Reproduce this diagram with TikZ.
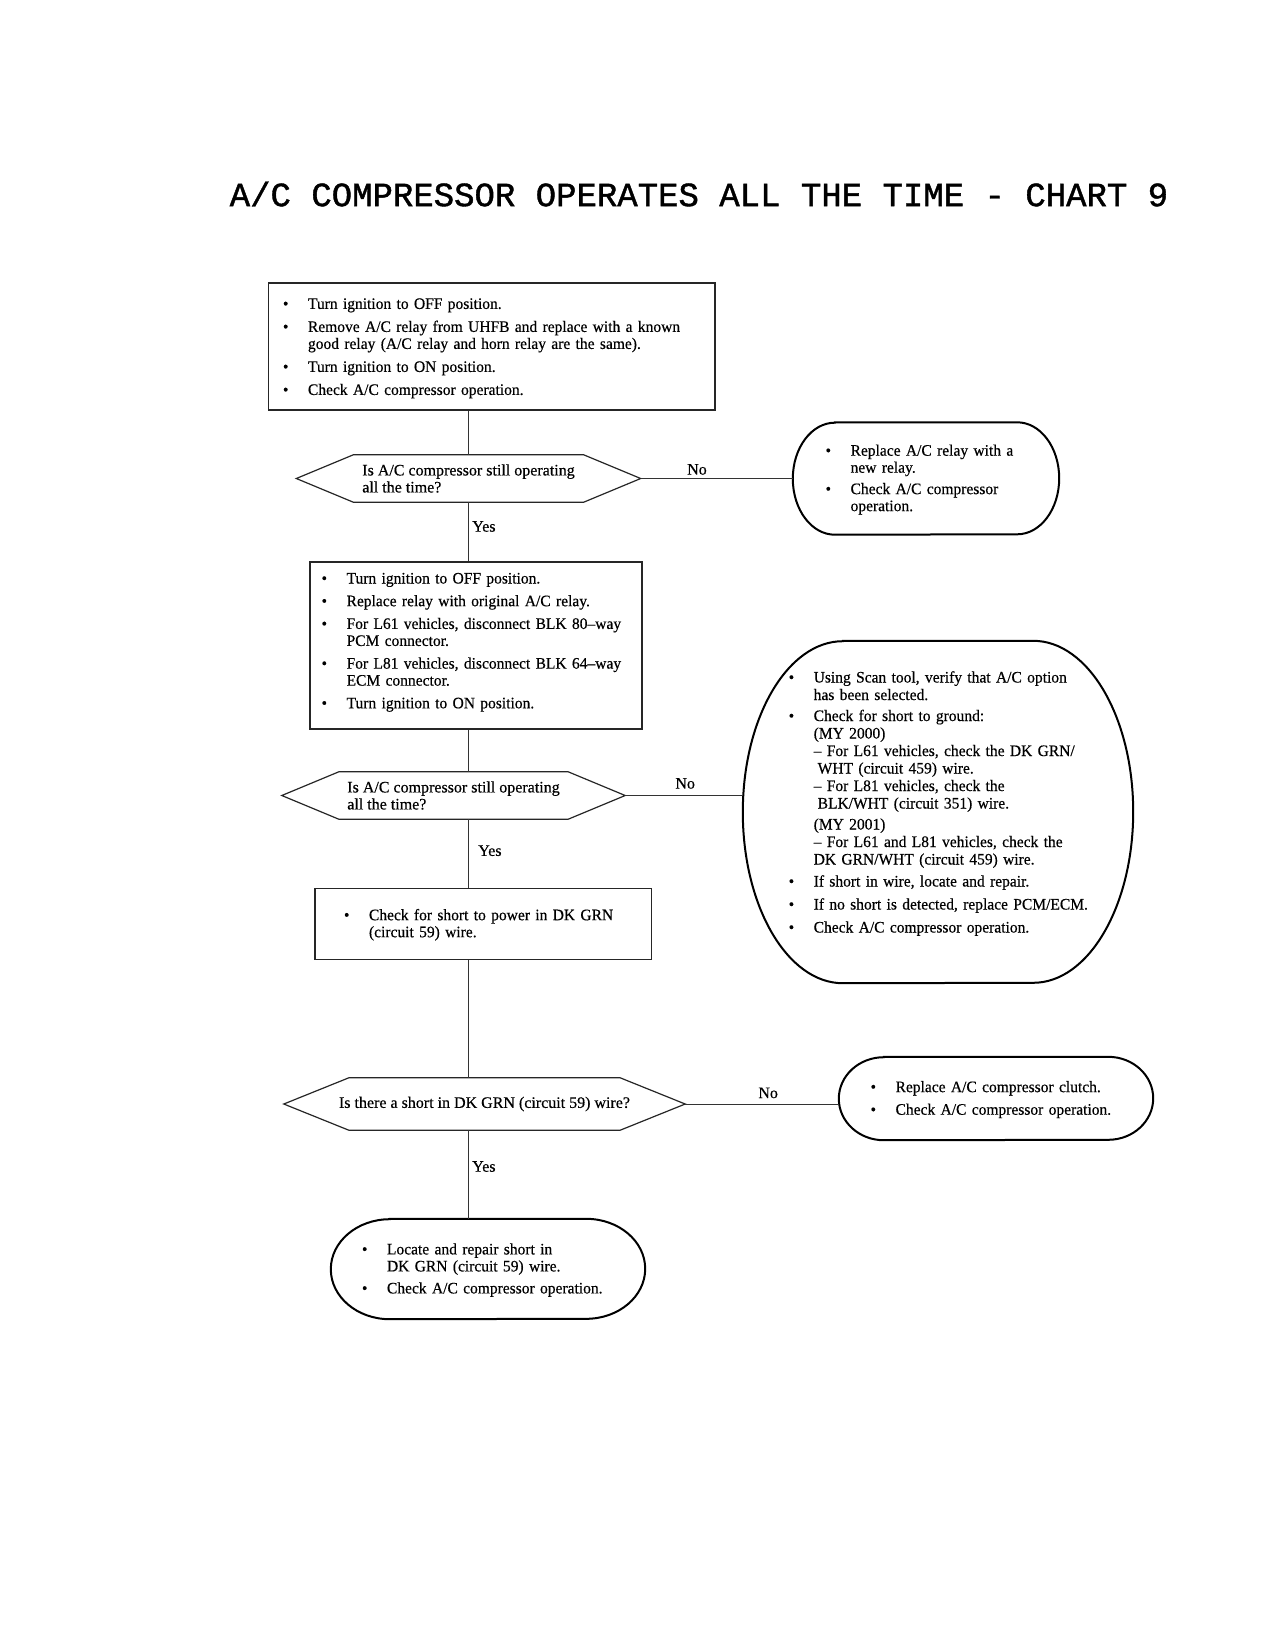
\documentclass[tikz,border=0pt]{standalone}
\usepackage{fontspec}
\setmainfont[FakeBold=0.4]{Liberation Serif}
\newfontfamily\tightfont[Ligatures=TeX,FakeStretch=0.97,FakeBold=0.4]{Liberation Serif}
\newfontfamily\titlefont[FakeBold=1.2]{Liberation Mono}
\usepackage{array}

\begin{document}
\begin{tikzpicture}[x=1pt,y=1pt]
	\tikzstyle{every node} = [font=\fontsize{16}{17}\selectfont]
	\tikzstyle{stepbox} = [rectangle,draw=black!85,line width=1.2pt,inner sep=0pt,align=left,font=\tightfont\fontsize{16}{17}\selectfont]
	\tikzstyle{link} = [draw=black!80,line width=0.9pt]
	\tikzset{query/.style={rectangle,inner sep=0pt,align=left,
		append after command={\pgfextra{\edef\bodyname{\tikzlastnode}\draw[black!85,line width=1.2pt]
			([xshift=#1]\bodyname.north west) -- ([xshift=-#1]\bodyname.north east)
			-- (\bodyname.east) -- ([xshift=-#1]\bodyname.south east)
			-- ([xshift=#1]\bodyname.south west) -- (\bodyname.west) -- cycle;}}}}
	\tikzset{endbox/.style 2 args={rectangle,inner sep=0pt,align=left,font=\tightfont\fontsize{16}{17}\selectfont,
		append after command={\pgfextra{\edef\bodyname{\tikzlastnode}\draw[black,line width=2pt]
			([xshift=#1]\bodyname.north west) -- ([xshift=-#1]\bodyname.north east)
			arc[start angle=90,end angle=-90,x radius=#1,y radius=#2]
			-- ([xshift=#1]\bodyname.south west)
			arc[start angle=270,end angle=90,x radius=#1,y radius=#2] -- cycle;}}}}

	\path[fill=white] (0,0) rectangle (1275,-1650);

	\node[font=\titlefont\fontsize{34}{40}\selectfont] (title) at (699,-194) {A/C COMPRESSOR OPERATES ALL THE TIME - CHART 9};

	\node[stepbox,minimum width=446.4pt,minimum height=127pt,text width=417.6pt] (relay) at (491.8,-346.5) {\noindent
		\begin{tabular}{@{}p{25pt}@{}l@{}}
		\textbullet & Turn ignition to OFF position.\\[6pt]
		\textbullet & Remove A/C relay from UHFB and replace with a known\\
		 & good relay (A/C relay and horn relay are the same).\\[6pt]
		\textbullet & Turn ignition to ON position.\\[6pt]
		\textbullet & Check A/C compressor operation.\\[-4pt]
		\end{tabular}};
	\node[query=57pt,minimum width=344pt,minimum height=47pt] (first) at (468.5,-478.5) {Is A/C compressor still operating\\all the time?};
	\node[endbox={42pt}{56pt},minimum width=266pt,minimum height=112pt,text width=200.8pt] (newrelay) at (926,-478.5) {\noindent
		\begin{tabular}{@{}p{25pt}@{}l@{}}
		\textbullet & Replace A/C relay with a\\
		 & new relay.\\[4.4pt]
		\textbullet & Check A/C compressor\\
		 & operation.\\[-3pt]
		\end{tabular}};
	\node[stepbox,minimum width=332pt,minimum height=167pt,text width=308.8pt] (restore) at (476,-645.5) {\noindent
		\begin{tabular}{@{}p{25pt}@{}l@{}}
		\textbullet & Turn ignition to OFF position.\\[5.7pt]
		\textbullet & Replace relay with original A/C relay.\\[5.7pt]
		\textbullet & For L61 vehicles, disconnect BLK 80--way\\
		 & PCM connector.\\[5.7pt]
		\textbullet & For L81 vehicles, disconnect BLK 64--way\\
		 & ECM connector.\\[5.7pt]
		\textbullet & Turn ignition to ON position.\\[6pt]
		\end{tabular}};
	\node[query=57pt,minimum width=343pt,minimum height=47pt] (second) at (453.5,-795.5) {Is A/C compressor still operating\\all the time?};
	\node[endbox={100pt}{171pt},minimum width=390pt,minimum height=342pt,text width=298.6pt,font=\tightfont\fontsize{16}{17.5}\selectfont] (scan) at (938,-812) {\noindent
		\begin{tabular}{@{}p{25pt}@{}l@{}}
		\textbullet & Using Scan tool, verify that A/C option\\
		 & has been selected.\\[3.5pt]
		\textbullet & Check for short to ground:\\
		 & (MY 2000)\\
		 & -- For L61 vehicles, check the DK GRN/\\
		 & \hspace{4pt}WHT (circuit 459) wire.\\
		 & -- For L81 vehicles, check the\\
		 & \hspace{4pt}BLK/WHT (circuit 351) wire.\\[3.5pt]
		 & (MY 2001)\\
		 & -- For L61 and L81 vehicles, check the\\
		 & DK GRN/WHT (circuit 459) wire.\\[4.5pt]
		\textbullet & If short in wire, locate and repair.\\[5.5pt]
		\textbullet & If no short is detected, replace PCM/ECM.\\[5.5pt]
		\textbullet & Check A/C compressor operation.\\[16pt]
		\end{tabular}};
	\node[stepbox,minimum width=336.7pt,minimum height=71pt,text width=278.8pt] (power) at (483.4,-923.8) {\noindent
		\begin{tabular}{@{}p{25pt}@{}l@{}}
		\textbullet & Check for short to power in DK GRN\\
		 & (circuit 59) wire.\\[-3pt]
		\end{tabular}};
	\node[query=65pt,minimum width=401pt,minimum height=52pt] (short) at (484.5,-1104) {Is there a short in DK GRN (circuit 59) wire?};
	\node[endbox={45pt}{41.5pt},minimum width=314pt,minimum height=83pt,text width=250.8pt] (clutch) at (996,-1098.5) {\noindent
		\begin{tabular}{@{}p{25pt}@{}l@{}}
		\textbullet & Replace A/C compressor clutch.\\[5.6pt]
		\textbullet & Check A/C compressor operation.\\[-3pt]
		\end{tabular}};
	\node[endbox={59pt}{50pt},minimum width=314pt,minimum height=100pt,text width=252pt] (repair) at (488,-1269) {\noindent
		\begin{tabular}{@{}p{25pt}@{}l@{}}
		\textbullet & Locate and repair short in\\
		 & DK GRN (circuit 59) wire.\\[5pt]
		\textbullet & Check A/C compressor operation.\\[-3pt]
		\end{tabular}};

	\path (relay.south -| first.north) edge[link] (first.north);
	\path (first) edge[link] node[above,pos=0.37]{No} (newrelay);
	\path (first.south) edge[link] node[right,pos=0.41]{Yes} (restore.north -| first.south);
	\path (restore.south -| first.south) edge[link] (second.north -| first.south);
	\path (second.east) edge[link] node[above,pos=0.51,yshift=3pt]{No} (second.east -| scan.west);
	\path (second.south -| first.south) edge[link] node[right,pos=0.46,xshift=6pt]{Yes} (power.north -| first.south);
	\path (power.south -| first.south) edge[link] (short.north -| first.south);
	\path (short.east) edge[link] node[above,pos=0.54,yshift=2pt]{No} (short.east -| clutch.west);
	\path (short.south -| first.south) edge[link] node[right,pos=0.41]{Yes} (repair.north -| first.south);
\end{tikzpicture}
\end{document}
